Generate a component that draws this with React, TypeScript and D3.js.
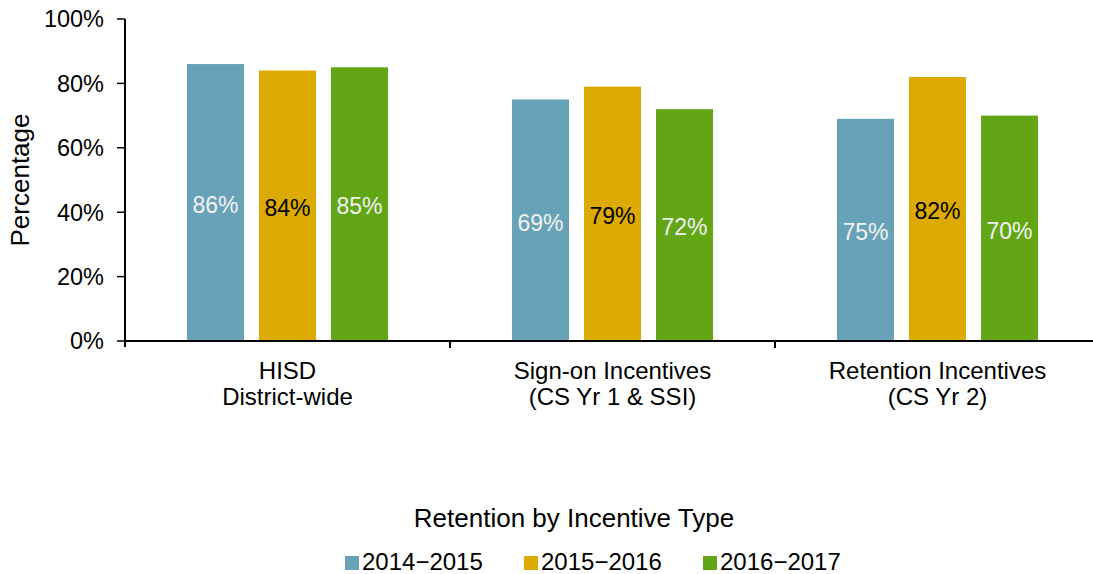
import React from "react";
import * as d3 from "d3";

const categories = [["HISD", "District-wide"], ["Sign-on Incentives", "(CS Yr 1 & SSI)"], ["Retention Incentives", "(CS Yr 2)"]];
const seriesNames = ["2014\u22122015", "2015\u22122016", "2016\u22122017"];
const colors = ["#67a2b9", "#dcaa00", "#62a615"];
const labelColors = ["#f2f2f2", "#000000", "#f2f2f2"];
// bar heights as drawn
const s2014 = [86, 75, 69];
const s2015 = [84, 79, 82];
const s2016 = [85, 72, 70];
// labels as printed on the bars
const l2014 = ["86%", "69%", "75%"];
const l2015 = ["84%", "79%", "82%"];
const l2016 = ["85%", "72%", "70%"];
const yTicks = [0, 20, 40, 60, 80, 100];

const values = [s2014, s2015, s2016];
const labels = [l2014, l2015, l2016];

const W = 1093, H = 574;
const left = 125, right = 1100, top = 19, bottom = 341;
const font = "Liberation Sans, Arial, sans-serif";

export default function App() {
  const x0 = d3.scaleBand<number>().domain([0, 1, 2]).range([left, right]).paddingInner(0).paddingOuter(0);
  const y = d3.scaleLinear().domain([0, 100]).range([bottom, top]);
  const barW = 57, gap = 15;
  const groupW = barW * 3 + gap * 2;
  return (
    <svg width={W} height={H} style={{ position: "absolute", left: 0, top: 0 }} fontFamily={font}>
      {/* bars */}
      {categories.map((_, ci) => {
        const cx = (x0(ci) as number) + x0.bandwidth() / 2;
        const start = cx - groupW / 2;
        return values.map((ser, si) => {
          const v = ser[ci];
          const bx = start + si * (barW + gap);
          return (
            <g key={`${ci}-${si}`}>
              <rect x={bx} y={y(v)} width={barW} height={bottom - y(v)} fill={colors[si]} />
              <text x={bx + barW / 2} y={(y(v) + bottom) / 2 + 2} dy="0.36em" textAnchor="middle" fontSize={23} fill={labelColors[si]}>
                {labels[si][ci]}
              </text>
            </g>
          );
        });
      })}
      {/* y axis */}
      <line x1={left} x2={left} y1={top} y2={bottom + 6} stroke="#000" strokeWidth={2} />
      {yTicks.map((t) => (
        <g key={t}>
          <line x1={left - 8} x2={left} y1={y(t)} y2={y(t)} stroke="#000" strokeWidth={1.5} />
          <text x={104} y={y(t)} dy="0.36em" textAnchor="end" fontSize={23.5} fill="#000">
            {t}%
          </text>
        </g>
      ))}
      <text transform={`translate(29,${(top + bottom) / 2}) rotate(-90)`} textAnchor="middle" fontSize={26} fill="#000">
        Percentage
      </text>
      {/* x axis */}
      <line x1={left} x2={W} y1={bottom} y2={bottom} stroke="#000" strokeWidth={2} />
      {[1, 2].map((i) => (
        <line key={i} x1={x0(i) as number} x2={x0(i) as number} y1={bottom} y2={bottom + 7} stroke="#000" strokeWidth={2} />
      ))}
      {categories.map((c, ci) => {
        const cx = (x0(ci) as number) + x0.bandwidth() / 2;
        return (
          <text key={ci} x={cx} y={379} textAnchor="middle" fontSize={24} fill="#000">
            <tspan x={cx}>{c[0]}</tspan>
            <tspan x={cx} dy={26}>{c[1]}</tspan>
          </text>
        );
      })}
      {/* legend */}
      <text x={574} y={527} textAnchor="middle" fontSize={26} fill="#000">Retention by Incentive Type</text>
      {seriesNames.map((n, i) => {
        const lx = [345, 524, 703][i];
        return (
          <g key={n}>
            <rect x={lx} y={556} width={14} height={14} fill={colors[i]} />
            <text x={lx + 17} y={570} fontSize={24} fill="#000">{n}</text>
          </g>
        );
      })}
    </svg>
  );
}
